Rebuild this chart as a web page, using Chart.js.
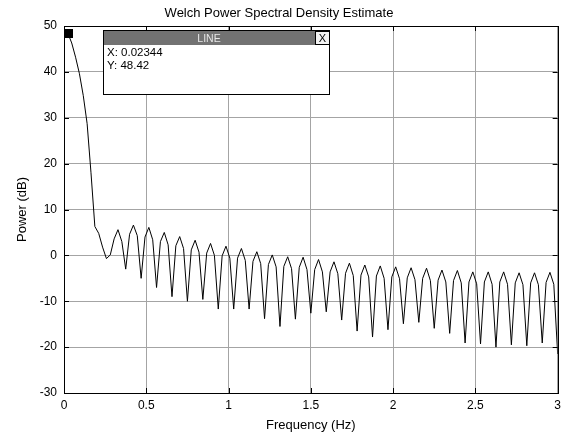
<!DOCTYPE html>
<html>
<head>
<meta charset="utf-8">
<script src="https://cdn.jsdelivr.net/npm/chart.js@4.4.1/dist/chart.umd.min.js"></script>
<style>
  html, body { margin: 0; padding: 0; background: #fff; }
</style>
</head>
<body>
<canvas id="psd" width="566" height="435"></canvas>
<script>
// frequency resolution of the estimate (Hz per bin)
const binStep = 0.0234375;

// power per bin in dB (bins 0..128)
const power = [
  47.8, 48.42, 46.3, 43.2, 39.6, 34.8, 28.7, 18.0, 6.3, 4.8,
  1.8, -0.7, 0.1, 3.6, 5.6, 3.0, -3.0, 4.6, 6.6, 4.3,
  -5.0, 4.0, 6.1, 3.4, -7.0, 3.0, 5.0, 2.3, -9.0, 2.1,
  4.1, 1.5, -10.0, 1.2, 3.3, 0.7, -9.6, 0.5, 2.6, 0.0,
  -11.7, -0.1, 2.0, -0.6, -11.7, -0.6, 1.5, -1.1, -11.7, -1.3,
  0.8, -1.8, -13.8, -2.0, 0.1, -2.5, -15.5, -2.4, -0.3, -2.9,
  -13.9, -2.6, -0.4, -3.1, -12.6, -3.1, -0.9, -3.6, -12.3, -3.6,
  -1.4, -4.0, -14.1, -3.9, -1.7, -4.4, -16.5, -4.3, -2.1, -4.7,
  -17.8, -4.5, -2.3, -5.0, -16.2, -4.7, -2.5, -5.1, -14.9, -4.9,
  -2.7, -5.3, -14.6, -5.0, -2.8, -5.5, -15.9, -5.4, -3.2, -5.8,
  -17.0, -5.5, -3.3, -6.0, -19.1, -5.8, -3.6, -6.2, -19.3, -5.8,
  -3.6, -6.3, -20.0, -5.8, -3.6, -6.3, -19.5, -6.0, -3.8, -6.4,
  -19.7, -6.0, -3.8, -6.4, -19.1, -5.9, -3.7, -6.3, -21.5
];
const freqs = power.map((v, i) => i * binStep);

const xTicks = [0, 0.5, 1, 1.5, 2, 2.5, 3];
const yTicks = [-30, -20, -10, 0, 10, 20, 30, 40, 50];

// bin where the data tip sits
const tipIndex = 1;

const fam = '"Liberation Sans", Arial, Helvetica, sans-serif';

// inward ticks + closed box, matlab style
const matlabAxes = {
  id: 'matlabAxes',
  afterDatasetsDraw(chart) {
    const { ctx, chartArea: a, scales: { x, y } } = chart;
    ctx.save();
    ctx.strokeStyle = '#000';
    ctx.lineWidth = 1;
    ctx.beginPath();
    xTicks.forEach(v => {
      const px = Math.round(x.getPixelForValue(v)) + 0.5;
      ctx.moveTo(px, a.bottom); ctx.lineTo(px, a.bottom - 5);
      ctx.moveTo(px, a.top); ctx.lineTo(px, a.top + 5);
    });
    yTicks.forEach(v => {
      const py = Math.round(y.getPixelForValue(v)) + 0.5;
      ctx.moveTo(a.left, py); ctx.lineTo(a.left + 5, py);
      ctx.moveTo(a.right, py); ctx.lineTo(a.right - 5, py);
    });
    ctx.stroke();
    ctx.strokeRect(Math.round(a.left) + 0.5, Math.round(a.top) + 0.5,
      Math.round(a.right - a.left), Math.round(a.bottom - a.top));
    ctx.restore();
  }
};

const datatip = {
  id: 'datatip',
  afterDraw(chart) {
    const { ctx, scales: { x, y } } = chart;
    const mx = Math.round(x.getPixelForValue(freqs[tipIndex]));
    const my = Math.round(y.getPixelForValue(power[tipIndex]));
    ctx.save();
    ctx.fillStyle = '#000';
    ctx.fillRect(mx - 4, my - 4, 9, 9);

    const bx = mx + 35, by = my - 3, bw = 226, bh = 64, hh = 15;
    ctx.fillStyle = '#fff';
    ctx.fillRect(bx, by, bw, bh);
    ctx.fillStyle = '#727272';
    ctx.fillRect(bx, by, bw, hh);
    ctx.strokeStyle = '#000';
    ctx.lineWidth = 1;
    ctx.strokeRect(bx + 0.5, by + 0.5, bw, bh);

    // close button
    ctx.fillStyle = '#f2f2f2';
    ctx.fillRect(bx + bw - 14, by + 1, 14, hh - 1);
    ctx.strokeRect(bx + bw - 14 + 0.5, by + 1.5, 14, hh - 2);
    ctx.fillStyle = '#000';
    ctx.font = '11px ' + fam;
    ctx.textAlign = 'center';
    ctx.textBaseline = 'alphabetic';
    ctx.fillText('X', bx + bw - 6.5, by + 12);

    ctx.fillStyle = '#e6e6e6';
    ctx.font = '10.5px ' + fam;
    ctx.fillText('LINE', bx + (bw - 14) / 2, by + 12);

    ctx.fillStyle = '#000';
    ctx.textAlign = 'left';
    ctx.font = '11.5px ' + fam;
    ctx.fillText('X: ' + freqs[tipIndex].toPrecision(4), bx + 4, by + 26);
    ctx.fillText('Y: ' + power[tipIndex], bx + 4, by + 39);
    ctx.restore();
  }
};

new Chart(document.getElementById('psd'), {
  type: 'line',
  data: {
    datasets: [{
      data: freqs.map((f, i) => ({ x: f, y: power[i] })),
      borderColor: '#000',
      borderWidth: 1,
      pointRadius: 0,
      tension: 0,
      fill: false
    }]
  },
  options: {
    responsive: false,
    animation: false,
    events: [],
    layout: { padding: { left: 0, right: 8, top: 0, bottom: 0 } },
    plugins: {
      legend: { display: false },
      tooltip: { enabled: false },
      title: {
        display: true,
        text: 'Welch Power Spectral Density Estimate',
        color: '#000',
        font: { family: fam, size: 13, weight: 'normal' },
        padding: { top: 5.5, bottom: 4.9 }
      }
    },
    scales: {
      x: {
        type: 'linear',
        min: 0,
        max: 3,
        afterBuildTicks: s => { s.ticks = xTicks.map(v => ({ value: v })); },
        afterFit: s => { s.height = 42; },
        grid: { color: '#a4a4a4', drawTicks: false },
        border: { color: '#000' },
        ticks: {
          color: '#000', font: { family: fam, size: 12 }, padding: 5, maxRotation: 0,
          callback: v => String(v)
        },
        title: {
          display: true, text: 'Frequency (Hz)', color: '#000',
          font: { family: fam, size: 13 }, padding: { top: 0, bottom: 2 }
        }
      },
      y: {
        min: -30,
        max: 50,
        afterBuildTicks: s => { s.ticks = yTicks.map(v => ({ value: v })); },
        afterFit: s => { s.width = 64; },
        grid: { color: '#a4a4a4', drawTicks: false },
        border: { color: '#000' },
        ticks: { color: '#000', font: { family: fam, size: 12 }, padding: 7 },
        title: {
          display: true, text: 'Power (dB)', color: '#000',
          font: { family: fam, size: 13 }, padding: { top: 15, bottom: 0 }
        }
      }
    }
  },
  plugins: [matlabAxes, datatip]
});
</script>
</body>
</html>
